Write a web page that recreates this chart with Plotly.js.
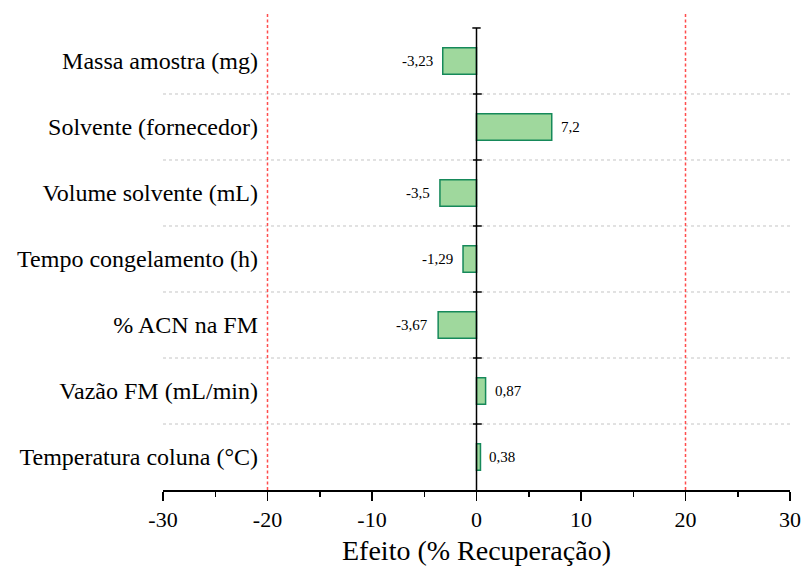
<!DOCTYPE html>
<html><head><meta charset="utf-8">
<script src="https://cdn.plot.ly/plotly-3.0.1.min.js"></script>
<style>body{margin:0}#c{width:803px;height:569px}</style>
</head><body><div id="c"></div>
<script>
const categories = ["Massa amostra (mg)","Solvente (fornecedor)","Volume solvente (mL)","Tempo congelamento (h)","% ACN na FM","Vazão FM (mL/min)","Temperatura coluna (°C)"];
const effects = [-3.23, 7.2, -3.5, -1.29, -3.67, 0.87, 0.38];
const effectLabels = ["-3,23","7,2","-3,5","-1,29","-3,67","0,87","0,38"];
const xTicks = [-30,-20,-10,0,10,20,30];
const xTickText = ["-30","-20","-10","0","10","20","30"];
const limits = [-20, 20];

const n = categories.length;
const bottomUp = categories.slice().reverse();
const font = "Liberation Serif, Times New Roman, serif";

const shapes = [];
limits.forEach(v => shapes.push({type:'line', xref:'x', yref:'paper', x0:v, x1:v, y0:0, y1:1,
  line:{color:'#ff4d4d', width:1.5, dash:'3px,2.5px'}}));
for (let i = 0; i < n - 1; i++) {
  shapes.push({type:'line', xref:'paper', yref:'y', x0:0, x1:1, y0:i+0.5, y1:i+0.5,
    line:{color:'#c4c4c4', width:1, dash:'dot'}, layer:'below'});
}
shapes.push({type:'line', xref:'x', yref:'y', x0:0, x1:0, y0:-0.5, y1:n-0.5, line:{color:'black', width:1.5}});
shapes.push({type:'line', xref:'x', yref:'y', x0:-0.4, x1:0.4, y0:n-0.5, y1:n-0.5, line:{color:'black', width:1.5}});
for (let i = 0; i < n - 1; i++) {
  shapes.push({type:'line', xref:'x', yref:'y', x0:-0.35, x1:0.5, y0:i+0.5, y1:i+0.5, line:{color:'black', width:1.5}});
}

const annotations = effects.map((v, i) => ({
  x: v, y: categories[i], xref:'x', yref:'y', text: effectLabels[i], showarrow:false,
  xanchor: v < 0 ? 'right' : 'left', xshift: v < 0 ? -8 : 7,
  font:{family:font, size:15, color:'black'}
}));

const trace = {
  type:'bar', orientation:'h', x: effects, y: categories, width:0.4,
  marker:{color:'#9fd89d', line:{color:'#16895a', width:1.5}},
  hoverinfo:'skip'
};

const layout = {
  width:803, height:569,
  margin:{l:163, r:13, t:13, b:79},
  paper_bgcolor:'white', plot_bgcolor:'white',
  showlegend:false,
  xaxis:{range:[-30,30], tickvals:xTicks, ticktext:xTickText, ticks:'outside', ticklen:9, tickwidth:1.5, tickcolor:'black',
    showline:true, linecolor:'black', linewidth:1.5, showgrid:false, zeroline:false,
    minor:{dtick:5, ticks:'outside', ticklen:5, tickwidth:1.5, tickcolor:'black', showgrid:false},
    tickfont:{family:font, size:22, color:'black'},
    title:{text:'Efeito (% Recuperação)', font:{family:font, size:28, color:'black'}, standoff:9}},
  yaxis:{type:'category', categoryorder:'array', categoryarray:bottomUp, range:[-0.5, n-0.5+0.227],
    anchor:'free', position:(258-163)/627, showline:false, ticks:'', showgrid:false, zeroline:false,
    tickfont:{family:font, size:24, color:'black'}},
  shapes:shapes, annotations:annotations
};
Plotly.newPlot('c', [trace], layout, {displayModeBar:false, staticPlot:true});
</script></body></html>
